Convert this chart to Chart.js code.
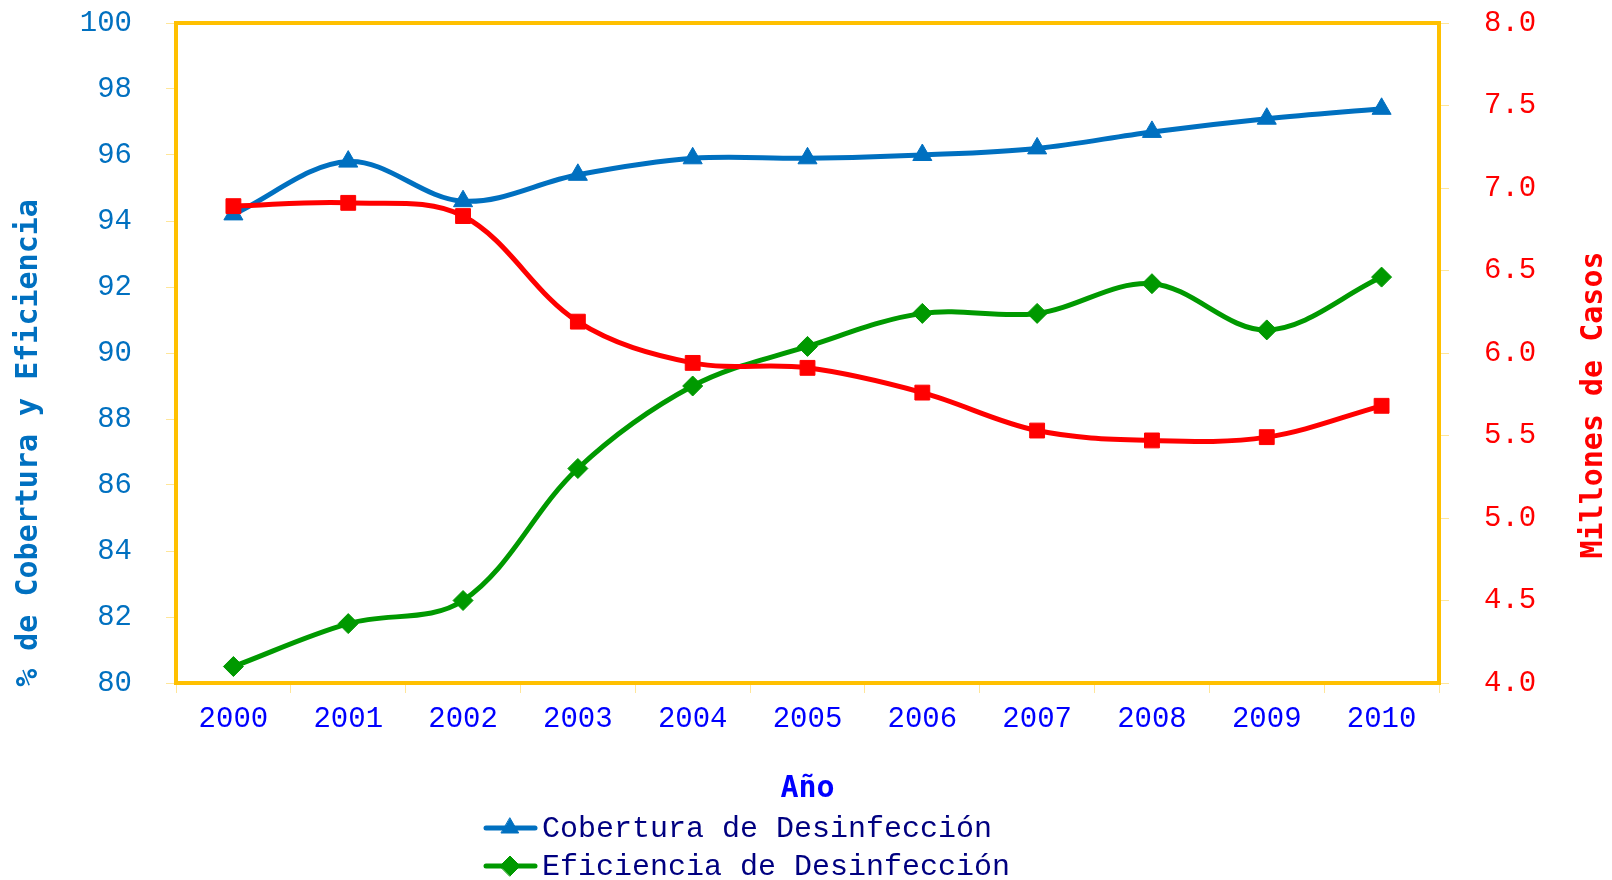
<!DOCTYPE html>
<html>
<head>
<meta charset="utf-8">
<script src="https://cdn.jsdelivr.net/npm/chart.js@4.4.1/dist/chart.umd.min.js"></script>
<style>
  html, body { margin: 0; padding: 0; background: #fff; }
  #wrap { width: 1612px; height: 880px; }
</style>
</head>
<body>
<div id="wrap"><canvas id="chart" width="1612" height="880"></canvas></div>
<script>
// data
const years = ["2000", "2001", "2002", "2003", "2004", "2005", "2006", "2007", "2008", "2009", "2010"];
const cobertura = [94.2, 95.8, 94.6, 95.4, 95.9, 95.9, 96.0, 96.2, 96.7, 97.1, 97.4];
const eficiencia = [80.5, 81.8, 82.5, 86.5, 89.0, 90.2, 91.2, 91.2, 92.1, 90.7, 92.3];
const casos = [6.89, 6.91, 6.83, 6.19, 5.94, 5.91, 5.76, 5.53, 5.47, 5.49, 5.68];

const names = ["Cobertura de Desinfección", "Eficiencia de Desinfección", "Millones de Casos"];
const leftTitle = "% de Cobertura y Eficiencia";
const rightTitle = "Millones de Casos";
const xTitle = "Año";

const BLUE = "#0070C0";
const GREEN = "#009900";
const RED = "#FF0000";
const GOLD = "#FFC000";
const TICKLINE = "#FFE699";
const MONO = "'Liberation Mono', 'DejaVu Sans Mono', monospace";
const MONO_B = "'DejaVu Sans Mono', monospace";

const frame = {
  id: "frame",
  beforeDatasetsDraw(chart) {
    const { ctx, chartArea: a } = chart;
    ctx.save();
    ctx.strokeStyle = GOLD;
    ctx.lineWidth = 4;
    ctx.strokeRect(a.left, a.top, a.right - a.left, a.bottom - a.top);
    ctx.restore();
  },
  afterDraw(chart) {
    const ctx = chart.ctx;
    ctx.save();
    ctx.font = "bold 30px " + MONO_B;
    ctx.textAlign = "center";
    ctx.textBaseline = "middle";

    ctx.fillStyle = BLUE;
    ctx.translate(29, 443);
    ctx.rotate(-Math.PI / 2);
    ctx.fillText(leftTitle, 0, 0);
    ctx.setTransform(1, 0, 0, 1, 0, 0);

    ctx.fillStyle = RED;
    ctx.translate(1594, 405);
    ctx.rotate(-Math.PI / 2);
    ctx.fillText(rightTitle, 0, 0);
    ctx.setTransform(1, 0, 0, 1, 0, 0);

    // legend, stacked (third entry falls off the bottom like in the original)
    const items = [
      { text: names[0], color: BLUE, style: "triangle", r: 10 },
      { text: names[1], color: GREEN, style: "rectRot", r: 10 }
    ];
    ctx.font = "30px " + MONO;
    ctx.textAlign = "left";
    items.forEach((it, i) => {
      const y = 828 + i * 38;
      ctx.strokeStyle = it.color;
      ctx.lineWidth = 5;
      ctx.lineCap = "round";
      ctx.beginPath();
      ctx.moveTo(486, y);
      ctx.lineTo(535, y);
      ctx.stroke();
      ctx.fillStyle = it.color;
      ctx.lineWidth = 1;
      Chart.helpers.drawPoint(ctx, { pointStyle: it.style, radius: it.r, borderWidth: 1 }, 510, y);
      ctx.fillStyle = "#000080";
      ctx.fillText(it.text, 542, y + 1);
    });
    ctx.restore();
  }
};

const yGrid = { drawOnChartArea: false, drawTicks: true, tickLength: 10, color: TICKLINE };

// fixed axis sizes; drop the label overhang padding so the plot box sits where it should
function fixWidth(w) {
  return s => { s.width = w; s.paddingTop = 0; s.paddingBottom = 0; };
}

new Chart(document.getElementById("chart"), {
  type: "line",
  data: {
    labels: years,
    datasets: [
      {
        label: names[0],
        data: cobertura,
        yAxisID: "y",
        borderColor: BLUE,
        backgroundColor: BLUE,
        borderWidth: 5,
        tension: 0.35,
        pointStyle: "triangle",
        pointRadius: 11,
        pointBorderWidth: 1,
        order: 2
      },
      {
        label: names[1],
        data: eficiencia,
        yAxisID: "y",
        borderColor: GREEN,
        backgroundColor: GREEN,
        borderWidth: 5,
        tension: 0.35,
        pointStyle: "rectRot",
        pointRadius: 10,
        pointBorderWidth: 1,
        order: 1
      },
      {
        label: names[2],
        data: casos,
        yAxisID: "y1",
        borderColor: RED,
        backgroundColor: RED,
        borderWidth: 5,
        tension: 0.35,
        pointStyle: "rect",
        pointRadius: 10.5,
        pointBorderWidth: 1,
        order: 0
      }
    ]
  },
  options: {
    responsive: false,
    animation: false,
    devicePixelRatio: 1,
    layout: { padding: { left: 0, right: 0, top: 23, bottom: 73 } },
    plugins: {
      legend: { display: false },
      tooltip: { enabled: false }
    },
    scales: {
      x: {
        offset: true,
        grid: { offset: true, drawOnChartArea: false, tickLength: 10, color: TICKLINE },
        border: { display: false },
        ticks: { color: "#0000FF", font: { family: MONO, size: 29 }, padding: 9, maxRotation: 0, autoSkip: false },
        title: {
          display: true,
          text: xTitle,
          color: "#0000FF",
          font: { family: MONO_B, size: 30, weight: "bold" },
          padding: { top: 0, bottom: 0 }
        },
        afterFit(s) { s.height = 124; s.paddingLeft = 0; s.paddingRight = 0; }
      },
      y: {
        position: "left",
        min: 80,
        max: 100,
        grid: yGrid,
        border: { display: false },
        ticks: { stepSize: 2, color: BLUE, font: { family: MONO, size: 29 }, padding: 34 },
        afterFit: fixWidth(176)
      },
      y1: {
        position: "right",
        min: 4,
        max: 8,
        grid: yGrid,
        border: { display: false },
        ticks: { stepSize: 0.5, color: RED, font: { family: MONO, size: 29 }, padding: 35, callback: v => v.toFixed(1) },
        afterFit: fixWidth(173)
      }
    }
  },
  plugins: [frame]
});
</script>
</body>
</html>
